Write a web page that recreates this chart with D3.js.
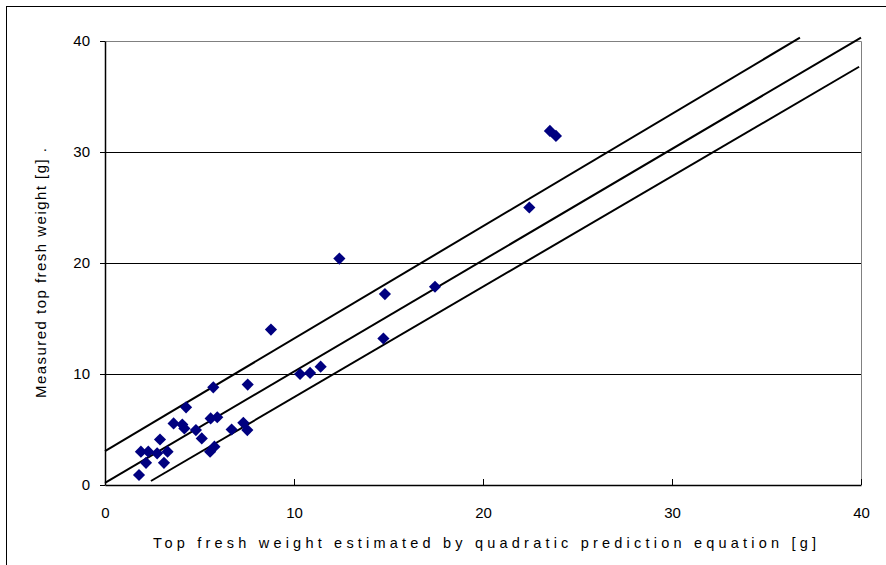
<!DOCTYPE html>
<html>
<head>
<meta charset="utf-8">
<script src="https://cdn.jsdelivr.net/npm/d3@7"></script>
<style>
  html, body { margin: 0; padding: 0; background: #fff; }
  svg { display: block; }
  text { font-family: "Liberation Sans", Arial, sans-serif; fill: #000; }
</style>
</head>
<body>
<svg id="chart" width="886" height="565"></svg>
<script>
// Estimated (quadratic prediction equation) vs measured top fresh weight, g
const estimated = [1.8, 2.17, 3.12, 1.9, 2.29, 2.76, 3.31, 2.91, 3.63, 4.09, 4.2, 4.29,
  4.81, 5.12, 5.59, 5.94, 5.56, 5.79, 5.73, 6.7, 7.32, 7.53, 7.55, 8.78,
  10.32, 10.85, 11.41, 12.4, 14.81, 14.73, 17.46, 22.45, 23.54, 23.86];
const measured = [0.9, 2.0, 2.0, 3.0, 3.0, 2.85, 3.0, 4.1, 5.55, 5.45, 5.1, 7.0,
  4.95, 4.2, 6.0, 6.1, 3.0, 3.45, 8.8, 5.0, 5.6, 4.95, 9.05, 14.0,
  10.0, 10.1, 10.66, 20.4, 17.2, 13.2, 17.86, 25.0, 31.9, 31.45];

// Reference lines: centre fit and upper / lower bands, as [x1, y1, x2, y2]
const upperLine = [0, 3.06, 36.77, 40.3];
const centreLine = [0, 0.2, 40, 40.3];
const lowerLine = [2.43, 0.36, 39.9, 37.68];

const xTicks = [0, 10, 20, 30, 40];
const yTicks = [0, 10, 20, 30, 40];
const xTitle = "Top fresh weight estimated by quadratic prediction equation [g]";
const yTitle = "Measured top fresh weight [g]   .";

const svg = d3.select("#chart");
const W = 886, H = 565;
const plotL = 105, plotR = 861, plotT = 41, plotB = 485;

// Outer frame
svg.append("rect")
  .attr("x", 6.5).attr("y", 6.5)
  .attr("width", W).attr("height", H)
  .attr("fill", "none").attr("stroke", "#000").attr("stroke-width", 1);

const x = d3.scaleLinear().domain([0, 40]).range([plotL, plotR]);
const y = d3.scaleLinear().domain([0, 40]).range([plotB, plotT]);

// Plot area border (top / right in grey)
svg.append("path")
  .attr("d", `M${plotL},${plotT + 0.5}H${plotR + 0.5}V${plotB}`)
  .attr("fill", "none").attr("stroke", "#808080").attr("stroke-width", 1);

// Horizontal gridlines
svg.append("g").selectAll("line")
  .data(yTicks.filter(d => d > 0 && d < 40))
  .join("line")
  .attr("x1", plotL).attr("x2", plotR)
  .attr("y1", d => Math.round(y(d)) + 0.5).attr("y2", d => Math.round(y(d)) + 0.5)
  .attr("stroke", "#000").attr("stroke-width", 1);

// X axis
const xAxis = d3.axisBottom(x).tickValues(xTicks).tickSizeInner(-6).tickSizeOuter(0)
  .tickPadding(19).tickFormat(d3.format("d"));
const gx = svg.append("g").attr("transform", `translate(0,${plotB})`).call(xAxis);
gx.select(".domain").attr("stroke", "#000").attr("stroke-width", 1.5);
gx.selectAll(".tick line").attr("stroke", "#000");
gx.selectAll(".tick text").attr("font-size", 15).attr("font-family", "Liberation Sans, Arial, sans-serif")
  .attr("dy", "0.9em");

// Y axis
const yAxis = d3.axisLeft(y).tickValues(yTicks).tickSizeInner(5).tickSizeOuter(0)
  .tickPadding(10).tickFormat(d3.format("d"));
const gy = svg.append("g").attr("transform", `translate(${plotL},0)`).call(yAxis);
gy.select(".domain").attr("stroke", "#000").attr("stroke-width", 1.5);
gy.selectAll(".tick line").attr("stroke", "#000");
gy.selectAll(".tick text").attr("font-size", 15).attr("font-family", "Liberation Sans, Arial, sans-serif");

// Reference lines
svg.append("g").selectAll("line")
  .data([upperLine, centreLine, lowerLine])
  .join("line")
  .attr("x1", d => x(d[0])).attr("y1", d => y(d[1]))
  .attr("x2", d => x(d[2])).attr("y2", d => y(d[3]))
  .attr("stroke", "#000").attr("stroke-width", 2);

// Data markers (navy diamonds)
const diamond = d3.symbol().type(d3.symbolSquare).size(74);
svg.append("g").selectAll("path")
  .data(estimated.map((e, i) => [e, measured[i]]))
  .join("path")
  .attr("d", diamond)
  .attr("transform", d => `translate(${x(d[0])},${y(d[1])}) rotate(45)`)
  .attr("fill", "#000080");

// Axis titles
svg.append("text")
  .attr("x", 153).attr("y", 548)
  .attr("font-size", 14.5)
  .attr("textLength", 663).attr("lengthAdjust", "spacing")
  .text(xTitle);

svg.append("text")
  .attr("transform", "translate(46,398) rotate(-90)")
  .attr("font-size", 15)
  .attr("textLength", 250).attr("lengthAdjust", "spacing")
  .text(yTitle);
</script>
</body>
</html>
